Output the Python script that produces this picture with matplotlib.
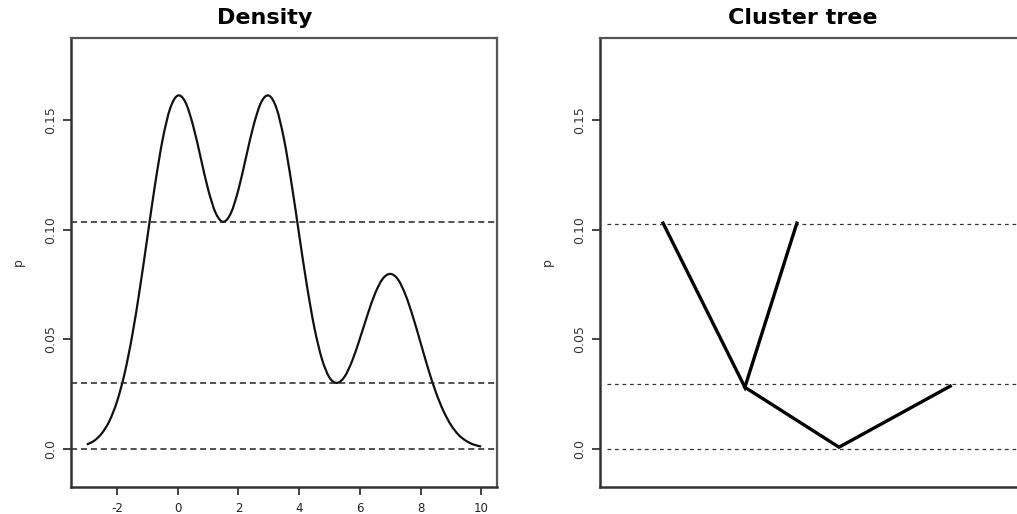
import numpy as np
import matplotlib.pyplot as plt
from matplotlib.path import Path
from matplotlib.patches import PathPatch

# density, x from -3 to 10 in steps of 0.25
x_grid = np.arange(-3, 10.01, 0.25)
density = [0.0018, 0.0036, 0.0070, 0.0127, 0.0216, 0.0345, 0.0518, 0.0731,
           0.0968, 0.1206, 0.1412, 0.1555, 0.1613, 0.1583, 0.1478, 0.1332,
           0.1184, 0.1076, 0.1036, 0.1076, 0.1184, 0.1332, 0.1478, 0.1583,
           0.1613, 0.1556, 0.1414, 0.1210, 0.0977, 0.0749, 0.0553, 0.0409,
           0.0324, 0.0300, 0.0329, 0.0402, 0.0502, 0.0610, 0.0708, 0.0775,
           0.0798, 0.0774, 0.0704, 0.0602, 0.0484, 0.0365, 0.0259, 0.0173,
           0.0108, 0.0063, 0.0035, 0.0018, 0.0009]

# level lines
levels_left = [0.1036, 0.0301, 0.0]
levels_right = [0.1027, 0.0297, 0.0]

# cluster tree branches (x in panel fraction, y = level)
tree_x = [[0.148, 0.340, 0.462], [0.340, 0.561, 0.822]]
tree_y = [[0.1030, 0.0280, 0.1030], [0.0280, 0.0006, 0.0285]]

xticks = [-2, 0, 2, 4, 6, 8, 10]
yticks = [0.0, 0.05, 0.10, 0.15]
ytick_labels = ['0.0', '0.05', '0.10', '0.15']
ylim = (-0.0176, 0.1876)

plt.rcParams['font.family'] = ['DejaVu Sans']


def smooth_path(xs, ys):
    # catmull-rom through the read points, drawn as cubic bezier segments
    pts = np.column_stack([xs, ys])
    verts = [pts[0]]
    codes = [Path.MOVETO]
    n = len(pts)
    for i in range(n - 1):
        p0 = pts[max(i - 1, 0)]
        p1 = pts[i]
        p2 = pts[i + 1]
        p3 = pts[min(i + 2, n - 1)]
        verts += [p1 + (p2 - p0) / 6, p2 - (p3 - p1) / 6, p2]
        codes += [Path.CURVE4] * 3
    return Path(verts, codes)


fig = plt.figure(figsize=(10.17, 5.14), dpi=100)
ax1 = fig.add_axes([0.0698, 0.0525, 0.4189, 0.8735])
ax2 = fig.add_axes([0.590, 0.0525, 0.4189, 0.8735])


def style_box(ax):
    for side in ['top', 'right']:
        ax.spines[side].set_color('#555555')
        ax.spines[side].set_linewidth(1.6)
    for side in ['left', 'bottom']:
        ax.spines[side].set_color('#333333')
        ax.spines[side].set_linewidth(1.8)
    ax.set_ylim(*ylim)
    ax.set_yticks(yticks)
    ax.set_yticklabels(ytick_labels, rotation=90, va='center', fontsize=9,
                       color='#333333')
    ax.tick_params(axis='y', length=6, width=1.3, color='#333333', pad=4)
    ax.set_ylabel('p', fontsize=9, color='#333333', labelpad=14)


# --- left: density ---
style_box(ax1)
ax1.add_patch(PathPatch(smooth_path(x_grid, density), fill=False,
                        edgecolor='#111111', lw=1.6))
for lev in levels_left:
    ax1.axhline(lev, color='#222222', lw=1.1, dashes=(4, 2.5))
ax1.set_xlim(-3.52, 10.52)
ax1.set_xticks(xticks)
ax1.set_xticklabels([str(t) for t in xticks], fontsize=8.5, color='#222222')
ax1.tick_params(axis='x', length=6, width=1.3, color='#333333', pad=5)
ax1.text(0.455, 1.045, 'Density', transform=ax1.transAxes, ha='center',
         va='center', fontsize=16, fontweight='bold')

# --- right: cluster tree ---
style_box(ax2)
for lev in levels_right:
    ax2.axhline(lev, xmin=0.017, color='#333333', lw=0.9, dashes=(3, 3))
for bx, by in zip(tree_x, tree_y):
    ax2.plot(bx, by, color='black', lw=2.4, solid_joinstyle='miter')
ax2.set_xlim(0, 1)
ax2.set_xticks([])
ax2.text(0.477, 1.045, 'Cluster tree', transform=ax2.transAxes, ha='center',
         va='center', fontsize=16, fontweight='bold')

fig.savefig('out.png', dpi=100)
